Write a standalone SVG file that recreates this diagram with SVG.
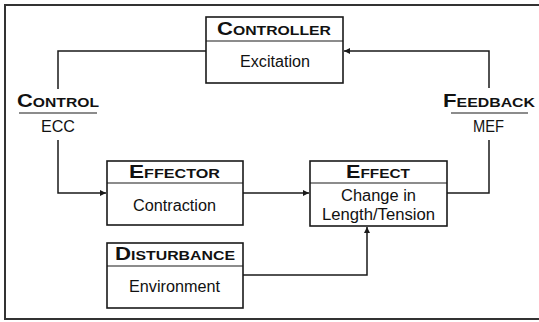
<svg xmlns="http://www.w3.org/2000/svg" width="539" height="322" viewBox="0 0 539 322">
<style>
.frame{fill:#fff;stroke:#333;stroke-width:2}
.box{fill:#fff;stroke:#1a1a1a;stroke-width:1.6}
.div{stroke:#1a1a1a;stroke-width:1.2}
.wire{fill:none;stroke:#1a1a1a;stroke-width:1.5}
.rule{stroke:#1a1a1a;stroke-width:1.2}
.hd{font-family:"Liberation Sans",Arial,sans-serif;font-weight:bold;font-size:12.5px;fill:#111}
.big{font-size:17.5px}
.bd{font-family:"Liberation Sans",Arial,sans-serif;font-size:16px;fill:#111}
</style>
<defs>
<marker id="arr" viewBox="0 0 10 10" refX="10" refY="5" markerWidth="8" markerHeight="6" markerUnits="userSpaceOnUse" orient="auto">
<path d="M0,0 L10,5 L0,10 z" fill="#1a1a1a"/>
</marker>
</defs>
<rect class="frame" x="5" y="5" width="545" height="314"/>

<g id="connectors">
<path class="wire" d="M206,51 H58 V89"/>
<path class="wire" d="M58,140 V193 H106" marker-end="url(#arr)"/>
<path class="wire" d="M243,193 H309" marker-end="url(#arr)"/>
<path class="wire" d="M243,275 H367 V227" marker-end="url(#arr)"/>
<path class="wire" d="M447,193 H489 V140"/>
<path class="wire" d="M489,88 V51 H344" marker-end="url(#arr)"/>
</g>

<g id="controller">
<rect class="box" x="206" y="17" width="137" height="66"/>
<line class="div" x1="206" y1="41" x2="343" y2="41"/>
<text class="hd" x="217" y="35" textLength="114" lengthAdjust="spacingAndGlyphs"><tspan class="big">C</tspan>ONTROLLER</text>
<text class="bd" x="240" y="67" textLength="70" lengthAdjust="spacingAndGlyphs">Excitation</text>
</g>

<g id="control">
<text class="hd" x="17" y="107" textLength="82" lengthAdjust="spacingAndGlyphs"><tspan class="big">C</tspan>ONTROL</text>
<line class="rule" x1="19" y1="113" x2="97" y2="113"/>
<text class="bd" x="41" y="132" textLength="34" lengthAdjust="spacingAndGlyphs">ECC</text>
</g>

<g id="feedback">
<text class="hd" x="443" y="107" textLength="92" lengthAdjust="spacingAndGlyphs"><tspan class="big">F</tspan>EEDBACK</text>
<line class="rule" x1="451" y1="113" x2="528" y2="113"/>
<text class="bd" x="473" y="132" textLength="31" lengthAdjust="spacingAndGlyphs">MEF</text>
</g>

<g id="effector">
<rect class="box" x="107" y="161" width="136" height="64"/>
<line class="div" x1="107" y1="183" x2="243" y2="183"/>
<text class="hd" x="129" y="178" textLength="91" lengthAdjust="spacingAndGlyphs"><tspan class="big">E</tspan>FFECTOR</text>
<text class="bd" x="133" y="211" textLength="83" lengthAdjust="spacingAndGlyphs">Contraction</text>
</g>

<g id="effect">
<rect class="box" x="310" y="161" width="137" height="65"/>
<line class="div" x1="310" y1="183" x2="447" y2="183"/>
<text class="hd" x="346" y="178" textLength="64" lengthAdjust="spacingAndGlyphs"><tspan class="big">E</tspan>FFECT</text>
<text class="bd" x="341" y="201" textLength="75" lengthAdjust="spacingAndGlyphs">Change in</text>
<text class="bd" x="322" y="220" textLength="113" lengthAdjust="spacingAndGlyphs">Length/Tension</text>
</g>

<g id="disturbance">
<rect class="box" x="107" y="243" width="136" height="65"/>
<line class="div" x1="107" y1="266" x2="243" y2="266"/>
<text class="hd" x="115" y="260" textLength="120" lengthAdjust="spacingAndGlyphs"><tspan class="big">D</tspan>ISTURBANCE</text>
<text class="bd" x="129" y="292" textLength="91" lengthAdjust="spacingAndGlyphs">Environment</text>
</g>
</svg>
